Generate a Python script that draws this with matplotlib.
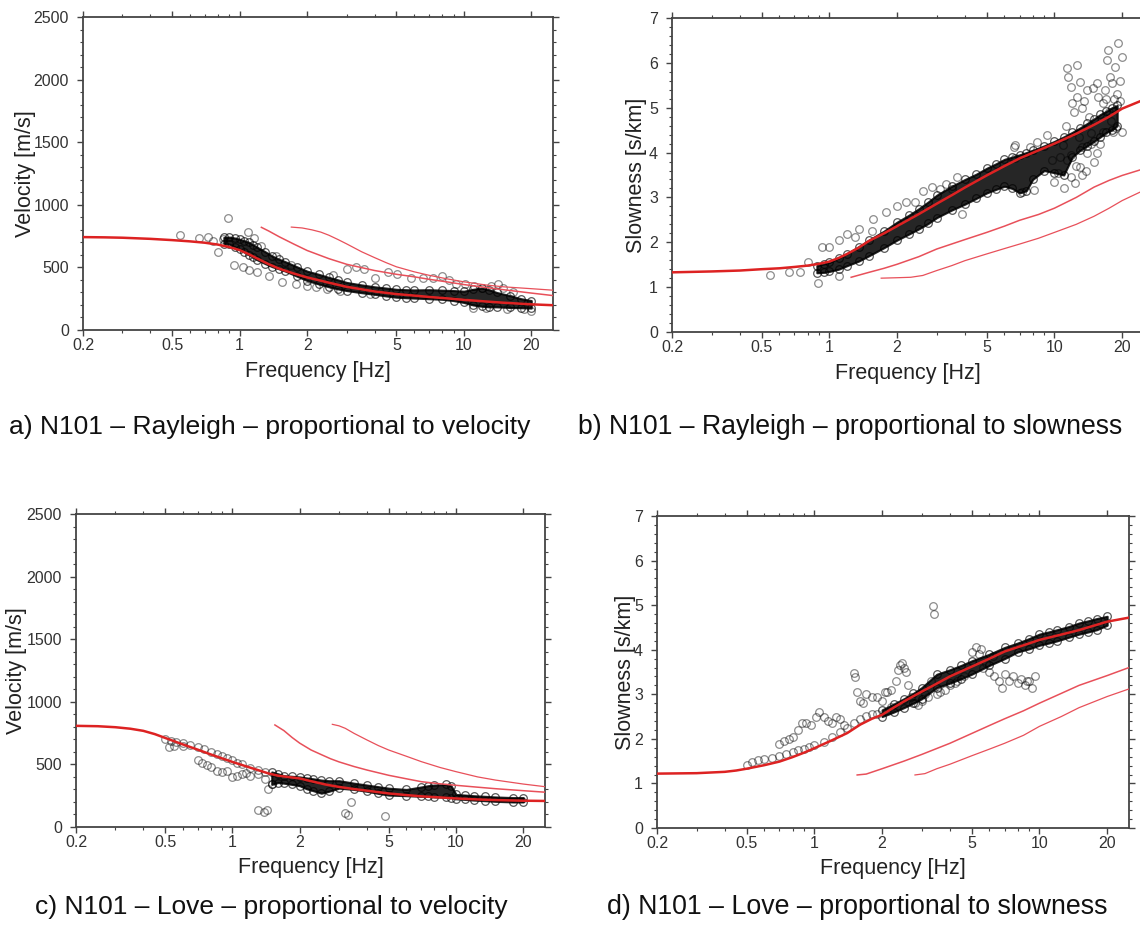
import matplotlib
matplotlib.use("Agg")
import matplotlib.pyplot as plt
from matplotlib.ticker import FixedLocator, FixedFormatter, MultipleLocator

plt.rcParams['font.family'] = ['Liberation Sans', 'DejaVu Sans']

# ---------------- data ----------------
x_major = [0.2, 0.5, 1, 2, 5, 10, 20]
x_major_labels = ["0.2", "0.5", "1", "2", "5", "10", "20"]
x_minor = [0.3, 0.4, 0.6, 0.7, 0.8, 0.9, 3, 4, 6, 7, 8, 9]

captions = ["a) N101 – Rayleigh – proportional to velocity",
            "b) N101 – Rayleigh – proportional to slowness",
            "c) N101 – Love – proportional to velocity",
            "d) N101 – Love – proportional to slowness"]

# Panel a: Rayleigh velocity
a_fund_f = [0.2, 0.25, 0.3, 0.4, 0.5, 0.6, 0.7, 0.8, 0.9, 1.0, 1.1, 1.2, 1.35, 1.5, 1.75, 2.0, 2.5, 3.0,
            4.0, 5.0, 6.0, 7.0, 8.5, 10, 12.5, 15, 20, 25]
a_fund_v = [742, 740, 737, 728, 718, 708, 697, 682, 662, 638, 605, 570, 525, 490, 450, 420, 378, 345,
            308, 287, 275, 264, 252, 241, 228, 218, 205, 198]
a_m1_f = [1.25, 1.35, 1.5, 1.75, 2.0, 2.5, 3.0, 4.0, 5.0, 6.0, 7.0, 8.5, 10, 12.5, 15, 20, 25]
a_m1_v = [820, 790, 745, 685, 635, 570, 525, 475, 445, 425, 405, 383, 363, 340, 322, 295, 275]
a_m2_f = [1.7, 1.9, 2.1, 2.3, 2.5, 2.75, 3.0, 3.5, 4.0, 4.5, 5.0, 6.0, 7.0, 8.5, 10, 12.5, 15, 20, 25]
a_m2_v = [822, 815, 800, 782, 757, 722, 688, 625, 578, 538, 505, 465, 437, 407, 385, 360, 345, 330, 318]
a_core_f = [0.85, 0.9, 0.95, 1.0, 1.05, 1.1, 1.15, 1.2, 1.3, 1.4, 1.5, 1.6, 1.8, 2.0, 2.25, 2.5, 2.75, 3.0,
            3.5, 4.0, 4.5, 5.0, 5.5, 6.0, 7.0, 8.0, 9.0, 10, 11, 12, 13, 14, 16, 18, 20]
a_core_lo = [690, 685, 665, 645, 622, 600, 580, 560, 530, 505, 488, 470, 430, 395, 368, 345, 328, 315,
             298, 285, 272, 262, 258, 255, 250, 245, 235, 220, 200, 190, 185, 185, 180, 178, 175]
a_core_hi = [740, 742, 735, 725, 712, 700, 680, 660, 625, 590, 565, 545, 505, 470, 445, 420, 400, 380,
             360, 345, 335, 325, 322, 320, 322, 318, 315, 310, 325, 335, 320, 300, 275, 250, 235]
a_pts = [(0.544, 758), (0.66, 731), (0.72, 742), (0.80, 625), (0.89, 896), (0.94, 516), (1.03, 505),
         (1.09, 785), (1.10, 476), (1.16, 731), (1.20, 460), (1.35, 431), (1.55, 386), (1.78, 370),
         (2.0, 351), (2.2, 343), (2.45, 324), (2.8, 311), (3.0, 484), (3.3, 503), (3.6, 484),
         (3.8, 285), (4.0, 418), (4.6, 465), (5.05, 444), (5.8, 418), (6.6, 418), (7.3, 418),
         (8.0, 431), (8.6, 396), (9.2, 370), (10.1, 364), (11.1, 351), (12.0, 338), (13.2, 351),
         (14.2, 364), (15.0, 338), (11.0, 178), (12.6, 178), (15.6, 165), (20.0, 152), (18.5, 165),
         (0.76, 712), (0.84, 730), (1.25, 668), (1.45, 590), (1.7, 520), (2.6, 440), (16.5, 300)]

# Panel b: Rayleigh slowness
b_fund_f = [0.2, 0.3, 0.4, 0.5, 0.6, 0.7, 0.8, 0.9, 1.0, 1.1, 1.2, 1.35, 1.5, 1.75, 2.0, 2.5, 3.0, 3.5,
            4.0, 5.0, 6.0, 7.0, 8.5, 10, 12.5, 15, 17.5, 20, 25]
b_fund_s = [1.33, 1.35, 1.37, 1.40, 1.42, 1.45, 1.48, 1.52, 1.57, 1.65, 1.74, 1.88, 2.03, 2.20, 2.36, 2.63,
            2.86, 3.05, 3.22, 3.49, 3.70, 3.87, 4.05, 4.20, 4.42, 4.62, 4.80, 4.98, 5.18]
b_m1_f = [1.25, 1.5, 1.75, 2.0, 2.5, 3.0, 4.0, 5.0, 6.0, 7.0, 8.5, 10, 12.5, 15, 17.5, 20, 25]
b_m1_s = [1.22, 1.33, 1.42, 1.51, 1.68, 1.85, 2.06, 2.22, 2.36, 2.49, 2.62, 2.76, 3.00, 3.23, 3.38, 3.49, 3.64]
b_m2_f = [1.7, 2.0, 2.3, 2.6, 3.0, 3.5, 4.0, 5.0, 6.0, 7.0, 8.5, 10, 12.5, 15, 17.5, 20, 25]
b_m2_s = [1.20, 1.21, 1.22, 1.26, 1.37, 1.48, 1.59, 1.74, 1.86, 1.96, 2.09, 2.22, 2.40, 2.58, 2.76, 2.93, 3.16]
b_core_f = [0.88, 0.95, 1.0, 1.1, 1.2, 1.35, 1.5, 1.75, 2.0, 2.25, 2.5, 2.75, 3.0, 3.5, 4.0, 4.5, 5.0, 5.5,
            6.0, 6.5, 7.0, 7.5, 8.0, 9.0, 10, 11, 12, 13, 14, 15, 16, 17, 18, 19]
b_core_lo = [1.32, 1.33, 1.35, 1.40, 1.48, 1.58, 1.70, 1.88, 2.05, 2.18, 2.30, 2.42, 2.55, 2.72, 2.85, 2.98,
             3.10, 3.18, 3.25, 3.20, 3.10, 3.15, 3.40, 3.60, 3.55, 3.50, 3.90, 4.05, 4.15, 4.25, 4.35, 4.45, 4.50, 4.60]
b_core_hi = [1.48, 1.52, 1.55, 1.65, 1.75, 1.90, 2.05, 2.25, 2.45, 2.60, 2.75, 2.90, 3.05, 3.25, 3.40, 3.52,
             3.65, 3.75, 3.85, 3.90, 3.95, 4.00, 4.05, 4.15, 4.25, 4.35, 4.45, 4.55, 4.65, 4.75, 4.85, 4.92, 5.00, 5.05]
b_pts = [(0.545, 1.28), (0.66, 1.33), (0.74, 1.33), (0.80, 1.55), (0.89, 1.10), (0.93, 1.89), (1.0, 1.89),
         (1.1, 2.04), (1.2, 2.19), (1.1, 1.25), (1.3, 2.11), (1.36, 2.30), (1.55, 2.26), (1.57, 2.52),
         (1.78, 2.67), (1.99, 2.82), (2.2, 2.90), (2.4, 2.90), (2.6, 3.14), (2.85, 3.23), (3.1, 3.19),
         (3.3, 3.31), (3.5, 3.19), (3.7, 3.46), (3.9, 2.63), (6.6, 4.13), (6.7, 3.87), (7.8, 4.13),
         (9.3, 4.39), (8.4, 4.24), (19.2, 6.44), (17.3, 6.28), (20.0, 6.12), (11.4, 5.88), (12.6, 5.95),
         (11.5, 5.68), (11.9, 5.46), (13.0, 5.57), (14.0, 5.39), (15.5, 5.55), (17.7, 5.68), (18.6, 5.90),
         (17.2, 6.06), (12.6, 5.23), (15.6, 5.23), (13.3, 5.00), (14.6, 4.43), (18.2, 4.46), (20.0, 4.46),
         (10.9, 4.16), (13.2, 4.12), (15.5, 4.00), (9.8, 3.83), (11.4, 3.83), (13.0, 3.67), (10.4, 3.54),
         (11.9, 3.45), (13.3, 3.50), (10.0, 3.34), (11.0, 3.20), (12.3, 3.32), (8.1, 3.16), (7.2, 3.12),
         (6.7, 4.16), (14.2, 4.80), (16.5, 5.10), (19.0, 5.30), (12.2, 4.90), (16.0, 4.20), (17.5, 4.90),
         (14.8, 5.45), (16.8, 5.40), (18.0, 5.55), (19.5, 5.15), (13.6, 5.15), (12.0, 5.10), (11.2, 4.60),
         (12.8, 4.35), (14.0, 4.00), (15.0, 3.80), (16.5, 4.45), (17.8, 4.70), (18.8, 4.55), (11.8, 3.95),
         (10.6, 3.90), (12.5, 3.70), (13.8, 3.60), (14.5, 4.20), (17.0, 5.20), (18.4, 5.20), (19.6, 5.60)]

# Panel c: Love velocity
c_fund_f = [0.2, 0.25, 0.3, 0.35, 0.4, 0.45, 0.5, 0.6, 0.7, 0.8, 0.9, 1.0, 1.15, 1.3, 1.45, 1.6, 1.8, 2.0,
            2.3, 2.6, 3.0, 3.5, 4.0, 5.0, 6.0, 7.0, 8.5, 10, 12.5, 15, 20, 25]
c_fund_v = [808, 805, 797, 785, 768, 742, 712, 660, 618, 580, 548, 520, 485, 455, 428, 410, 398, 388,
            362, 340, 320, 303, 290, 268, 255, 245, 236, 228, 220, 215, 210, 208]
c_m1_f = [1.55, 1.7, 1.85, 2.0, 2.25, 2.5, 2.75, 3.0, 3.5, 4.0, 5.0, 6.0, 7.0, 8.5, 10, 12.5, 15, 20, 25]
c_m1_v = [815, 770, 715, 670, 615, 578, 545, 520, 483, 455, 413, 385, 362, 345, 333, 318, 306, 290, 278]
c_m2_f = [2.8, 3.0, 3.2, 3.5, 4.0, 4.5, 5.0, 6.0, 7.0, 8.5, 10, 12.5, 15, 20, 25]
c_m2_v = [820, 808, 788, 748, 695, 650, 615, 565, 522, 475, 442, 400, 375, 343, 322]
c_core_f = [1.5, 1.6, 1.7, 1.85, 2.0, 2.15, 2.3, 2.5, 2.7, 3.0, 3.5, 4.0, 4.5, 5.0, 6.0, 7.0, 7.5, 8.0,
            9.0, 9.5, 10, 11, 12, 13.5, 15, 18, 20]
c_core_lo = [340, 355, 350, 340, 330, 305, 290, 270, 285, 310, 300, 285, 268, 255, 250, 245, 245, 240,
             240, 235, 225, 220, 215, 210, 205, 200, 200]
c_core_hi = [440, 425, 410, 405, 400, 392, 385, 375, 370, 370, 350, 335, 322, 310, 300, 320, 330, 335,
             340, 330, 260, 255, 250, 245, 240, 235, 235]
c_pts = [(0.50, 705), (0.53, 690), (0.56, 680), (0.60, 670), (0.65, 655), (0.70, 635), (0.75, 620),
         (0.80, 600), (0.85, 585), (0.90, 565), (0.95, 550), (1.00, 535), (1.05, 515), (1.10, 500),
         (1.20, 475), (1.30, 455), (1.40, 440), (0.52, 640), (0.55, 650), (0.60, 645), (0.70, 535),
         (0.73, 510), (0.77, 495), (0.80, 480), (0.85, 450), (0.90, 440), (0.95, 445), (1.00, 400),
         (1.05, 410), (1.10, 420), (1.15, 430), (1.20, 410), (1.30, 420), (1.40, 380), (1.45, 300),
         (1.50, 345), (1.30, 135), (1.38, 120), (1.43, 135), (3.2, 108), (3.3, 95), (3.4, 200), (4.8, 85)]

# Panel d: Love slowness
d_fund_f = [0.2, 0.3, 0.4, 0.45, 0.5, 0.6, 0.7, 0.8, 0.9, 1.0, 1.2, 1.4, 1.6, 1.8, 2.0, 2.25, 2.5, 3.0,
            3.5, 4.0, 5.0, 6.0, 7.0, 8.5, 10, 12.5, 15, 20, 25]
d_fund_s = [1.22, 1.23, 1.26, 1.29, 1.33, 1.41, 1.49, 1.59, 1.69, 1.79, 1.97, 2.13, 2.32, 2.45, 2.54, 2.70,
            2.84, 3.06, 3.24, 3.40, 3.62, 3.80, 3.96, 4.10, 4.22, 4.34, 4.44, 4.63, 4.72]
d_m1_f = [1.55, 1.7, 2.0, 2.5, 3.0, 4.0, 5.0, 6.0, 7.0, 8.5, 10, 12.5, 15, 20, 25]
d_m1_s = [1.19, 1.21, 1.33, 1.50, 1.65, 1.90, 2.12, 2.30, 2.45, 2.63, 2.80, 3.02, 3.20, 3.42, 3.60]
d_m2_f = [2.8, 3.1, 3.5, 4.0, 5.0, 6.0, 7.0, 8.5, 10, 12.5, 15, 20, 25]
d_m2_s = [1.19, 1.22, 1.33, 1.43, 1.62, 1.77, 1.90, 2.08, 2.28, 2.50, 2.70, 2.95, 3.12]
d_core_f = [2.0, 2.25, 2.5, 2.75, 3.0, 3.5, 4.0, 4.5, 5.0, 6.0, 7.0, 8.0, 9.0, 10, 11, 12, 13.5, 15, 16.5, 18, 20]
d_core_lo = [2.50, 2.60, 2.70, 2.80, 2.90, 3.15, 3.25, 3.35, 3.45, 3.65, 3.80, 3.95, 4.02, 4.10, 4.15, 4.20,
             4.28, 4.35, 4.40, 4.45, 4.55]
d_core_hi = [2.65, 2.78, 2.90, 3.02, 3.15, 3.45, 3.55, 3.65, 3.75, 3.90, 4.05, 4.15, 4.25, 4.35, 4.40, 4.45,
             4.52, 4.60, 4.65, 4.70, 4.75]
d_pts = [(0.50, 1.42), (0.53, 1.48), (0.56, 1.52), (0.60, 1.55), (0.65, 1.58), (0.70, 1.62), (0.75, 1.66),
         (0.80, 1.70), (0.85, 1.74), (0.90, 1.78), (0.95, 1.82), (1.00, 1.86), (1.10, 1.94), (1.20, 2.05),
         (1.30, 2.15), (1.40, 2.25), (1.50, 2.35), (1.60, 2.45), (1.70, 2.52), (1.80, 2.56), (1.90, 2.55),
         (2.20, 2.72), (0.70, 1.88), (0.73, 1.95), (0.77, 2.00), (0.80, 2.05), (0.85, 2.20), (0.88, 2.35),
         (0.92, 2.35), (0.97, 2.30), (1.02, 2.50), (1.05, 2.60), (1.10, 2.50), (1.15, 2.40), (1.20, 2.35),
         (1.25, 2.50), (1.30, 2.45), (1.35, 2.30), (1.50, 3.48), (1.52, 3.38), (1.55, 3.05), (1.60, 2.85),
         (1.65, 2.80), (1.70, 3.00), (1.80, 2.95), (1.90, 2.95), (2.00, 2.85), (2.05, 3.05), (2.10, 3.05),
         (2.20, 3.10), (2.30, 3.30), (2.35, 3.55), (2.40, 3.65), (2.45, 3.70), (2.50, 3.60), (2.55, 3.50),
         (2.60, 3.20), (2.70, 2.95), (2.80, 2.80), (2.90, 2.75), (3.00, 2.85), (3.10, 3.00), (3.30, 3.30),
         (3.35, 4.98), (3.40, 4.80), (3.60, 3.05), (3.80, 3.10), (4.00, 3.20), (4.30, 3.30), (4.60, 3.40),
         (5.00, 3.95), (5.20, 4.05), (5.40, 3.90), (5.60, 3.60), (5.80, 3.70), (6.00, 3.50), (6.30, 3.40),
         (6.60, 3.30), (7.00, 3.45), (7.30, 3.30), (7.60, 3.40), (8.00, 3.25), (8.30, 3.35), (8.60, 3.20),
         (9.00, 3.30), (9.30, 3.15), (9.60, 3.40), (3.20, 2.95), (3.50, 3.00), (4.20, 3.25), (6.80, 3.15),
         (8.80, 3.30), (5.5, 4.02), (6.2, 3.85)]

# ---------------- figure ----------------
W, H = 1140, 935
fig = plt.figure(figsize=(W / 100, H / 100), dpi=100)

RED = '#dd2222'
RED2 = '#e8505a'
TICKC = '#333333'


def px_axes(l, t, r, b):
    return fig.add_axes([l / W, 1 - b / H, (r - l) / W, (b - t) / H])


def style(ax, ymax, ymajor, yminor, ylabel, ylab_x):
    ax.set_xscale('log')
    ax.set_xlim(0.2, 25)
    ax.set_ylim(0, ymax)
    ax.xaxis.set_major_locator(FixedLocator(x_major))
    ax.xaxis.set_major_formatter(FixedFormatter(x_major_labels))
    ax.xaxis.set_minor_locator(FixedLocator(x_minor))
    ax.xaxis.set_minor_formatter(FixedFormatter([""] * len(x_minor)))
    ax.yaxis.set_major_locator(MultipleLocator(ymajor))
    ax.yaxis.set_minor_locator(MultipleLocator(yminor))
    for s in ax.spines.values():
        s.set_color('#444444')
        s.set_linewidth(1.3)
    ax.tick_params(which='both', direction='out', top=True, right=True, color='#444444')
    ax.tick_params(which='major', length=4.0, width=1.0, labelsize=11.5, labelcolor=TICKC)
    ax.tick_params(which='minor', length=2.2, width=0.8)
    ax.tick_params(axis='x', which='major', pad=1.5)
    ax.tick_params(axis='y', which='major', pad=6)
    ax.set_xlabel("Frequency [Hz]", fontsize=15.5, color='#222222')
    ax.set_ylabel(ylabel, fontsize=15.5, color='#222222')
    ax.xaxis.label.set_va('center')
    ax.yaxis.label.set_va('center')
    ax.xaxis.set_label_coords(0.5, -41 / 313)
    ax.yaxis.set_label_coords(ylab_x, 0.5)


def draw(ax, core_f, core_lo, core_hi, pts, modes):
    ax.fill_between(core_f, core_lo, core_hi, color='black', lw=1.5, alpha=0.85, zorder=2)
    ax.plot(core_f, core_lo, 'o', ms=5.5, mfc='none', mec=(0, 0, 0, 0.65), mew=0.9, zorder=2)
    ax.plot(core_f, core_hi, 'o', ms=5.5, mfc='none', mec=(0, 0, 0, 0.65), mew=0.9, zorder=2)
    pf = [p[0] for p in pts]
    pv = [p[1] for p in pts]
    ax.plot(pf, pv, 'o', ms=5.5, mfc='none', mec=(0, 0, 0, 0.45), mew=0.9, zorder=2)
    (ff, fv), (m1f, m1v), (m2f, m2v) = modes
    ax.plot(m1f, m1v, '-', color=RED2, lw=1.1, zorder=3)
    ax.plot(m2f, m2v, '-', color=RED2, lw=0.9, zorder=3)
    ax.plot(ff, fv, '-', color=RED, lw=1.8, zorder=4)


ax_a = px_axes(83, 17, 553, 330)
style(ax_a, 2500, 500, 100, "Velocity [m/s]", -58 / 470)
draw(ax_a, a_core_f, a_core_lo, a_core_hi, a_pts,
     [(a_fund_f, a_fund_v), (a_m1_f, a_m1_v), (a_m2_f, a_m2_v)])

ax_b = px_axes(672, 18, 1144, 332)
style(ax_b, 7, 1, 0.2, "Slowness [s/km]", -35 / 472)
draw(ax_b, b_core_f, b_core_lo, b_core_hi, b_pts,
     [(b_fund_f, b_fund_s), (b_m1_f, b_m1_s), (b_m2_f, b_m2_s)])

ax_c = px_axes(76, 514, 545, 827)
style(ax_c, 2500, 500, 100, "Velocity [m/s]", -59 / 469)
draw(ax_c, c_core_f, c_core_lo, c_core_hi, c_pts,
     [(c_fund_f, c_fund_v), (c_m1_f, c_m1_v), (c_m2_f, c_m2_v)])

ax_d = px_axes(657, 516, 1129, 828)
style(ax_d, 7, 1, 0.2, "Slowness [s/km]", -32 / 472)
draw(ax_d, d_core_f, d_core_lo, d_core_hi, d_pts,
     [(d_fund_f, d_fund_s), (d_m1_f, d_m1_s), (d_m2_f, d_m2_s)])

# captions, fitted to the reference widths
cap_pos = [(9, 531, 427), (578, 1124, 427), (35, 509, 907), (607, 1109, 907)]
renderer = fig.canvas.get_renderer()
for text, (x0, x1, yc) in zip(captions, cap_pos):
    t = fig.text(x0 / W, 1 - yc / H, text, fontsize=16, ha='left', va='center', color='#111111')
    w = t.get_window_extent(renderer=renderer).width
    t.set_fontsize(16 * (x1 - x0) / w)

fig.savefig("out.png", dpi=100)
